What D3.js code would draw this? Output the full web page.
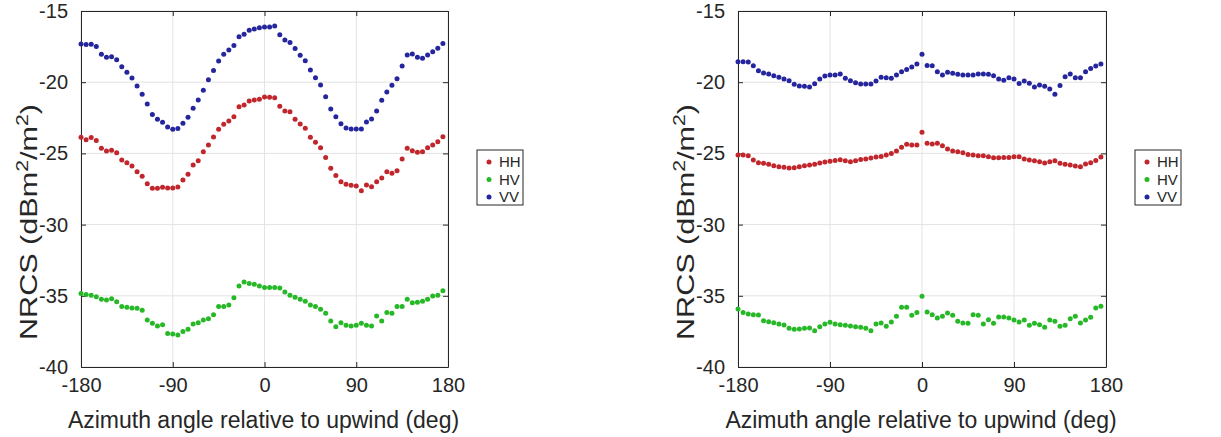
<!DOCTYPE html>
<html><head><meta charset="utf-8">
<script src="https://cdn.jsdelivr.net/npm/d3@7"></script>
<style>
body{margin:0;background:#fff;}
svg{display:block;}
text{font-family:"Liberation Sans",Arial,Helvetica,sans-serif;fill:#262626;}
</style>
</head><body>
<svg id="c" width="1221" height="437"></svg>
<script>
// Azimuth angles (deg)
const angles = [-180,-175,-170,-165,-160,-155,-150,-145,-140,-135,-130,-125,-120,-115,-110,-105,-100,-95,-90,-85,-80,-75,-70,-65,-60,-55,-50,-45,-40,-35,-30,-25,-20,-15,-10,-5,
  0,5,10,15,20,25,30,35,40,45,50,55,60,65,70,75,80,85,90,95,100,105,110,115,120,125,130,135,140,145,150,155,160,165,170,175];

const xTicks = [-180,-90,0,90,180];
const yTicks = [-40,-35,-30,-25,-20,-15];
const seriesNames = ["HH","HV","VV"];
const seriesColors = ["#c0262c","#27b827","#25259e"];
const yLabelParts = ["NRCS (dBm","2","/m","2",")"];
const xLabel = "Azimuth angle relative to upwind (deg)";

// Left panel
const leftHH = [-23.87,-24.04,-23.89,-24.10,-24.64,-24.83,-24.78,-24.95,-25.46,-25.65,-25.88,-26.28,-26.61,-27.13,-27.45,-27.45,-27.38,-27.43,-27.43,-27.36,-26.87,-26.47,-25.81,-25.51,-24.88,-24.41,-23.85,-23.31,-22.96,-22.72,-22.42,-21.72,-21.60,-21.32,-21.25,-21.20,
  -21.04,-21.06,-21.09,-21.69,-22.02,-22.07,-22.61,-22.94,-23.24,-23.87,-24.22,-24.60,-25.28,-26.05,-26.56,-26.99,-27.17,-27.24,-27.29,-27.62,-27.22,-27.34,-26.99,-26.73,-26.28,-26.40,-26.21,-25.39,-24.64,-24.81,-24.92,-24.88,-24.60,-24.41,-24.18,-23.83];
const leftHV = [-34.83,-34.90,-34.97,-35.06,-35.25,-35.30,-35.20,-35.41,-35.76,-35.81,-35.86,-35.88,-36.02,-36.70,-36.93,-37.12,-37.03,-37.64,-37.68,-37.75,-37.50,-37.35,-36.98,-36.89,-36.70,-36.61,-36.33,-35.76,-35.76,-35.65,-35.13,-34.31,-34.03,-34.13,-34.19,-34.31,
  -34.41,-34.41,-34.41,-34.45,-34.73,-34.97,-35.11,-35.25,-35.39,-35.65,-35.76,-35.95,-36.23,-36.77,-37.17,-36.89,-37.07,-37.12,-37.07,-36.93,-37.07,-37.12,-36.42,-36.77,-36.18,-36.23,-35.76,-35.76,-35.25,-35.48,-35.46,-35.39,-35.25,-35.01,-34.97,-34.64];
const leftVV = [-17.32,-17.36,-17.34,-17.50,-18.04,-18.25,-18.21,-18.42,-18.91,-19.31,-19.70,-20.27,-20.85,-21.53,-22.26,-22.61,-22.82,-23.15,-23.31,-23.26,-22.89,-22.47,-21.83,-21.25,-20.57,-19.82,-19.17,-18.51,-18.04,-17.74,-17.43,-16.80,-16.64,-16.36,-16.26,-16.17,
  -16.12,-16.12,-16.05,-16.66,-17.04,-17.22,-17.64,-18.11,-18.49,-19.14,-19.68,-20.20,-21.02,-21.88,-22.42,-22.91,-23.22,-23.29,-23.29,-23.29,-22.79,-22.58,-22.02,-21.27,-20.69,-20.22,-19.75,-18.86,-18.09,-18.02,-18.25,-18.32,-18.09,-17.86,-17.62,-17.29];

// Right panel
const rightHH = [-25.11,-25.11,-25.16,-25.46,-25.65,-25.70,-25.77,-25.86,-25.93,-25.98,-26.03,-26.00,-25.93,-25.86,-25.81,-25.77,-25.67,-25.60,-25.56,-25.49,-25.44,-25.51,-25.58,-25.51,-25.42,-25.39,-25.32,-25.25,-25.21,-25.11,-25.00,-24.83,-24.57,-24.35,-24.41,-24.41,
  -23.52,-24.29,-24.34,-24.29,-24.46,-24.69,-24.83,-24.88,-24.95,-25.07,-25.11,-25.16,-25.16,-25.23,-25.30,-25.30,-25.28,-25.28,-25.23,-25.23,-25.39,-25.46,-25.51,-25.58,-25.67,-25.58,-25.51,-25.70,-25.77,-25.81,-25.88,-25.93,-25.74,-25.65,-25.49,-25.25];
const rightHV = [-35.93,-36.18,-36.28,-36.33,-36.35,-36.75,-36.82,-36.89,-36.98,-37.05,-37.28,-37.35,-37.33,-37.28,-37.26,-37.45,-37.17,-36.98,-36.86,-36.98,-37.03,-37.07,-37.12,-37.17,-37.21,-37.28,-37.45,-36.98,-36.91,-37.14,-36.84,-36.44,-35.81,-35.81,-36.37,-36.18,
  -35.04,-36.14,-36.33,-36.56,-36.44,-36.21,-36.37,-36.79,-36.91,-36.93,-36.33,-36.37,-36.98,-36.68,-36.93,-36.49,-36.49,-36.56,-36.70,-36.84,-36.70,-37.07,-36.93,-37.03,-37.21,-36.70,-36.79,-37.14,-37.07,-36.61,-36.44,-36.91,-36.70,-36.51,-35.86,-35.74];
const rightVV = [-18.56,-18.56,-18.58,-18.84,-19.19,-19.35,-19.42,-19.54,-19.66,-19.78,-19.89,-20.15,-20.27,-20.29,-20.34,-20.11,-19.78,-19.56,-19.49,-19.49,-19.42,-19.73,-19.89,-20.03,-20.13,-20.13,-20.13,-19.92,-19.66,-19.68,-19.73,-19.49,-19.26,-19.10,-18.93,-18.72,
  -18.04,-18.82,-18.84,-19.26,-19.49,-19.31,-19.38,-19.45,-19.49,-19.49,-19.49,-19.42,-19.42,-19.45,-19.54,-19.78,-19.87,-19.68,-19.78,-20.10,-19.92,-20.08,-20.34,-20.20,-20.29,-20.48,-20.85,-20.24,-19.61,-19.42,-19.68,-19.68,-19.26,-19.03,-18.86,-18.72];

const panels = [
  {x0:81, x1:448, series:[leftHH,leftHV,leftVV], legendX:477},
  {x0:738, x1:1106, series:[rightHH,rightHV,rightVV], legendX:1135}
];
const plotTop = 11, plotBottom = 367;

const svg = d3.select("#c");

panels.forEach(p => {
  const x = d3.scaleLinear().domain([-180,180]).range([p.x0,p.x1]);
  const y = d3.scaleLinear().domain([-40,-15]).range([plotBottom,plotTop]);
  const g = svg.append("g");

  // grid
  g.append("g").selectAll("line").data(xTicks).join("line")
    .attr("x1",d=>x(d)).attr("x2",d=>x(d)).attr("y1",plotTop).attr("y2",plotBottom)
    .attr("stroke","#e3e3e3").attr("stroke-width",1);
  g.append("g").selectAll("line").data(yTicks).join("line")
    .attr("y1",d=>y(d)).attr("y2",d=>y(d)).attr("x1",p.x0).attr("x2",p.x1)
    .attr("stroke","#e3e3e3").attr("stroke-width",1);

  // axes (inward ticks) on all four sides
  const fmt = d => String(d);
  const axB = d3.axisBottom(x).tickValues(xTicks).tickFormat(fmt).tickSizeInner(-5).tickSizeOuter(0).tickPadding(11);
  const axT = d3.axisTop(x).tickValues(xTicks).tickSizeInner(-5).tickSizeOuter(0).tickFormat("");
  const axL = d3.axisLeft(y).tickValues(yTicks).tickFormat(fmt).tickSizeInner(-5).tickSizeOuter(0).tickPadding(13);
  const axR = d3.axisRight(y).tickValues(yTicks).tickSizeInner(-5).tickSizeOuter(0).tickFormat("");
  const styleAx = sel => {
    sel.select(".domain").attr("stroke","#262626").attr("stroke-width",1);
    sel.selectAll(".tick line").attr("stroke","#262626");
    sel.selectAll(".tick text").style("font-family","'Liberation Sans',Arial,sans-serif").style("font-size","20px").attr("fill","#262626");
  };
  g.append("g").attr("transform",`translate(0,${plotBottom})`).call(axB).call(styleAx);
  g.append("g").attr("transform",`translate(0,${plotTop})`).call(axT).call(styleAx);
  g.append("g").attr("transform",`translate(${p.x0},0)`).call(axL).call(styleAx);
  g.append("g").attr("transform",`translate(${p.x1},0)`).call(axR).call(styleAx);

  // points
  p.series.forEach((vals,si) => {
    g.append("g").selectAll("circle").data(angles.map((a,i)=>[a,vals[i]])).join("circle")
      .attr("cx",d=>x(d[0])).attr("cy",d=>y(d[1])).attr("r",2.5)
      .attr("fill",seriesColors[si]);
  });

  // y label (stretched along its length, as in the reference)
  const cx = (p.x0+p.x1)/2;
  const yl = g.append("text")
    .attr("transform",`translate(${p.x0-44},222) rotate(-90) scale(1.33,1)`)
    .attr("text-anchor","middle").style("font-size","23px");
  yl.append("tspan").text(yLabelParts[0]);
  yl.append("tspan").attr("dy",-9).style("font-size","16px").text(yLabelParts[1]);
  yl.append("tspan").attr("dy",9).text(yLabelParts[2]);
  yl.append("tspan").attr("dy",-9).style("font-size","16px").text(yLabelParts[3]);
  yl.append("tspan").attr("dy",9).text(yLabelParts[4]);

  // x label
  g.append("text").attr("x",cx-1).attr("y",428).attr("text-anchor","middle")
    .style("font-size","23px").text(xLabel);

  // legend
  const lg = g.append("g").attr("transform",`translate(${p.legendX},150)`);
  lg.append("rect").attr("width",46).attr("height",55).attr("fill","#fff")
    .attr("stroke","#262626").attr("stroke-width",1);
  seriesNames.forEach((n,i) => {
    lg.append("circle").attr("cx",12).attr("cy",12+i*17.5).attr("r",2.5).attr("fill",seriesColors[i]);
    lg.append("text").attr("x",22).attr("y",12+i*17.5).attr("dy","0.35em")
      .style("font-size","15px").text(n);
  });
});
</script>
</body></html>
